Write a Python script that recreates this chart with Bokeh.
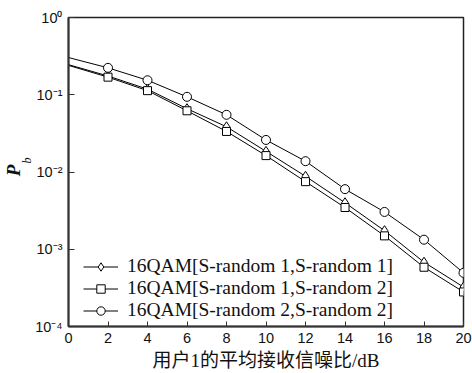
import math
from bokeh.plotting import figure
from bokeh.layouts import row
from bokeh.models import Legend, LegendItem, Range1d
from bokeh.core.properties import value
from bokeh.embed import file_html
from bokeh.resources import INLINE

# ---- data ----
snr = [0, 2, 4, 6, 8, 10, 12, 14, 16, 18, 20]
pb_s1_s1 = [0.245, 0.175, 0.118, 0.066, 0.0385, 0.0185, 0.0088, 0.0040, 0.00174, 0.00068, 0.000324]
pb_s1_s2 = [0.240, 0.169, 0.113, 0.062, 0.0335, 0.0163, 0.0075, 0.00347, 0.00149, 0.000585, 0.00028]
pb_s2_s2 = [0.303, 0.223, 0.154, 0.094, 0.055, 0.026, 0.0138, 0.0060, 0.00304, 0.00133, 0.000495]
labels = ["16QAM[S-random 1,S-random 1]",
          "16QAM[S-random 1,S-random 2]",
          "16QAM[S-random 2,S-random 2]"]
x_ticks = [0, 2, 4, 6, 8, 10, 12, 14, 16, 18, 20]
y_ticks = [1e-4, 1e-3, 1e-2, 1e-1, 1]
y_tick_text = {1e-4: "10\u207b\u2074", 1e-3: "10\u207b\u00b3", 1e-2: "10\u207b\u00b2",
               1e-1: "10\u207b\u00b9", 1: "10\u2070"}
x_title = "用户1的平均接收信噪比/dB"
y_title_main = "P"
y_title_sub = "b"

TOTAL_W, H = 472, 373
LAB_W = 32      # strip for the y title

# ---- main chart ----
p = figure(width=TOTAL_W - LAB_W, height=H, x_range=(0, 20), y_range=(1e-4, 1),
           y_axis_type="log", output_backend="svg", toolbar_location=None,
           min_border_left=68 - LAB_W, min_border_right=9, min_border_top=17,
           min_border_bottom=45)
p.grid.visible = False
p.outline_line_color = "#222222"
p.outline_line_width = 1.5
p.background_fill_color = "white"

for ax in (p.xaxis[0], p.yaxis[0]):
    ax.axis_line_width = 2
    ax.axis_line_color = "#333333"
    ax.major_tick_out = 0
    ax.major_tick_line_color = "#333333"
    ax.minor_tick_line_color = None
    ax.major_label_text_font = "Liberation Sans"
    ax.major_label_text_font_size = "14.5px"
    ax.major_label_text_color = "#111111"

p.xaxis.ticker = x_ticks
p.xaxis.major_tick_in = 5
p.xaxis.major_label_standoff = 6
p.xaxis.axis_label = x_title
p.xaxis.axis_label_text_font = "Liberation Serif, Noto Sans CJK SC"
p.xaxis.axis_label_text_font_style = "normal"
p.xaxis.axis_label_text_font_size = "19px"
p.xaxis.axis_label_text_color = "#111111"
p.xaxis.axis_label_standoff = 4

p.yaxis.ticker = y_ticks
p.yaxis.major_tick_in = 6
p.yaxis.major_label_standoff = 6
p.yaxis.major_label_overrides = y_tick_text

styles = [("diamond", 10, pb_s1_s1), ("square", 8, pb_s1_s2), ("circle", 9, pb_s2_s2)]
items = []
for (marker, size, ys), lab_text in zip(styles, labels):
    ln = p.line(snr, ys, line_color="black", line_width=1)
    sc = p.scatter(snr[1:], ys[1:], marker=marker, size=size,
                   line_color="black", line_width=1, fill_color="white")
    items.append(LegendItem(label=lab_text, renderers=[ln, sc]))

leg = Legend(items=items, location=(15, 5))
leg.background_fill_alpha = 0
leg.border_line_alpha = 0
leg.padding = 0
leg.margin = 0
leg.spacing = 0
leg.glyph_width = 35
leg.glyph_height = 21
leg.label_height = 21
leg.label_standoff = 9
leg.label_text_font = "Liberation Serif"
leg.label_text_font_size = "19.5px"
leg.label_text_color = "#111111"
p.add_layout(leg, "center")

# ---- narrow strip on the left carrying the rotated y title P_b (shares the y scale) ----
lab = figure(width=LAB_W, height=H, x_range=Range1d(0, LAB_W), y_range=p.y_range,
             y_axis_type="log", output_backend="svg", toolbar_location=None,
             x_axis_location=None, y_axis_location=None,
             min_border_left=0, min_border_right=0, min_border_top=17,
             min_border_bottom=45)
lab.grid.visible = False
lab.outline_line_color = None
lab.text(x=[12.5], y=[0.0105], text=[y_title_main], angle=math.pi / 2,
         text_align="center", text_baseline="middle",
         text_font=value("Liberation Serif"), text_font_style="bold italic",
         text_font_size="19px", text_color="#111111")
lab.text(x=[26], y=[0.0141], text=[y_title_sub], angle=math.pi / 2,
         text_align="center", text_baseline="middle",
         text_font=value("Liberation Serif"), text_font_style="italic",
         text_font_size="12px", text_color="#111111")

layout = row(lab, p, spacing=0)
open("out.html", "w").write(file_html(layout, INLINE))
